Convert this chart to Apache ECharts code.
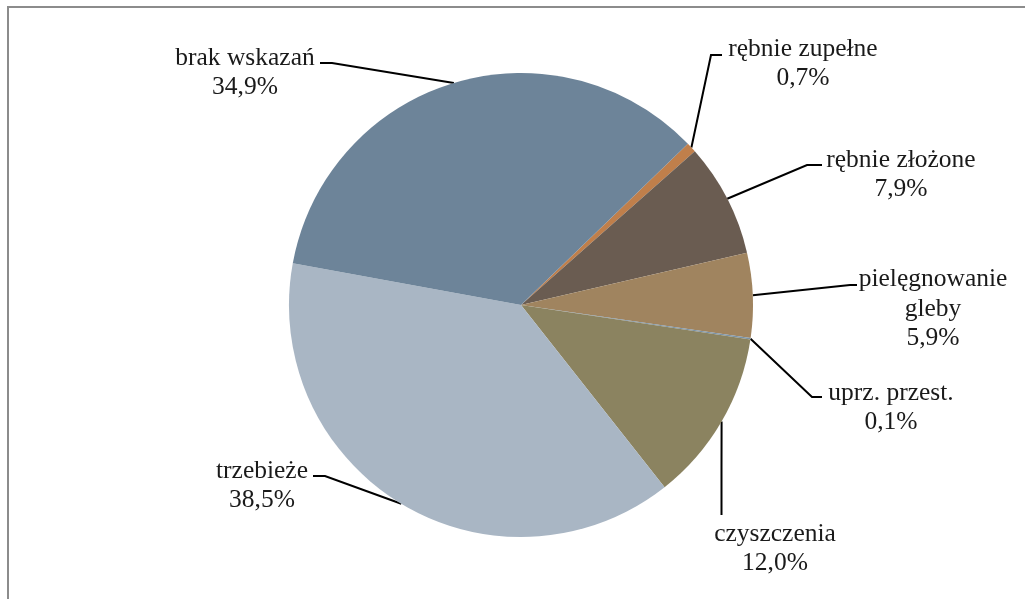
<!DOCTYPE html>
<html>
<head>
<meta charset="utf-8">
<script src="https://cdn.jsdelivr.net/npm/echarts@6/dist/echarts.min.js"></script>
<style>
html,body{margin:0;padding:0;background:#fff;}
#chart{width:1025px;height:599px;}
</style>
</head>
<body>
<div id="chart"></div>
<script>
// Data (clockwise order starting at the top-right)
const categories = ['rębnie zupełne', 'rębnie złożone', 'pielęgnowanie\ngleby', 'uprz. przest.', 'czyszczenia', 'trzebieże', 'brak wskazań'];
const values = [0.7, 7.9, 5.9, 0.1, 12.0, 38.5, 34.9];
const labelsPct = ['0,7%', '7,9%', '5,9%', '0,1%', '12,0%', '38,5%', '34,9%'];
const colors = ['#C07F4B', '#6A5C51', '#A0845F', '#7B93A8', '#8B8360', '#A9B6C4', '#6D8499'];

// Label layout (annotation placement): label centre, leader bend, leader end
const labelPlace = [
  {x: 803, y: 64,  bend: [711, 55],  end: [722, 55]},
  {x: 901, y: 175, bend: [807, 165], end: [822, 165]},
  {x: 933, y: 309, bend: [850, 285], end: [857, 285]},
  {x: 891, y: 408, bend: [812, 397], end: [822, 397]},
  {x: 775, y: 549, bend: [721.5, 468], end: [721.5, 515]},
  {x: 262, y: 486, bend: [325, 476], end: [313, 476]},
  {x: 245, y: 73,  bend: [332, 63],  end: [320, 63]}
];

const chart = echarts.init(document.getElementById('chart'), null, {renderer: 'canvas'});
const data = categories.map((c, i) => ({
  name: c,
  value: values[i],
  itemStyle: {color: colors[i]},
  label: {formatter: c + '\n' + labelsPct[i]}
}));

chart.setOption({
  animation: false,
  backgroundColor: '#ffffff',
  graphic: [{
    type: 'rect',
    shape: {x: 8, y: 7, width: 1100, height: 700},
    style: {fill: 'none', stroke: '#8c8c8c', lineWidth: 2},
    silent: true
  }],
  series: [{
    type: 'pie',
    center: [521, 305],
    radius: 232,
    startAngle: 44,
    clockwise: true,
    avoidLabelOverlap: false,
    itemStyle: {borderWidth: 0},
    emphasis: {disabled: true},
    label: {
      show: true,
      position: 'outside',
      fontFamily: 'Liberation Serif',
      fontSize: 25.5,
      lineHeight: 29.5,
      color: '#1a1a1a',
      align: 'center'
    },
    labelLine: {
      show: true,
      length: 10,
      length2: 10,
      lineStyle: {color: '#000000', width: 2}
    },
    labelLayout: function (params) {
      const p = labelPlace[params.dataIndex];
      const p0 = params.labelLinePoints ? params.labelLinePoints[0] : p.bend;
      return {
        x: p.x,
        y: p.y,
        align: 'center',
        verticalAlign: 'middle',
        labelLinePoints: [p0, p.bend, p.end]
      };
    },
    data: data
  }]
});
</script>
</body>
</html>
